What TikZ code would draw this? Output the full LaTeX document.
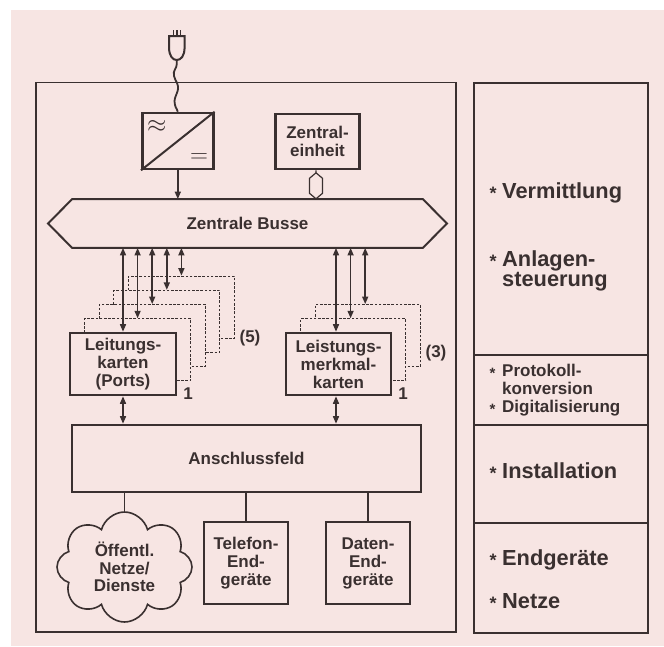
\documentclass[tikz,border=0pt]{standalone}
\usepackage{fontspec}
\setmainfont{Liberation Sans}
\usepackage{tikz}
\usetikzlibrary{arrows.meta,shapes.symbols,positioning}
\usepackage{xcolor}
\definecolor{dfbg}{RGB}{247,229,227}
\definecolor{dfline}{RGB}{58,48,48}
\tikzstyle{card} = [draw=dfline, line width=2.6pt, fill=dfbg, inner sep=0pt, align=center, text=dfline, font=\fontsize{17}{18}\selectfont\bfseries]
\tikzstyle{backcard} = [draw=dfline, line width=1.1pt, dash pattern=on 2.6pt off 1.6pt, fill=dfbg, inner sep=0pt, minimum height=62pt]
\tikzstyle{dbl} = [line width=1.5pt, color=dfline, {Triangle[length=7.5pt,width=6pt]}-{Triangle[length=7.5pt,width=6pt]}]
\tikzstyle{link} = [line width=1.5pt, color=dfline]
\tikzstyle{numtext} = [text=dfline, font=\fontsize{17}{18}\selectfont\bfseries, inner sep=0pt]
\tikzstyle{bigitem} = [anchor=base west, inner sep=0pt, text=dfline, font=\fontsize{21.8}{20}\selectfont\bfseries]
\tikzstyle{smallitem} = [anchor=base west, inner sep=0pt, text=dfline, font=\fontsize{17}{18}\selectfont\bfseries]
\newcommand{\stern}[2]{\makebox[12.5pt][l]{\raisebox{#2}{\fontsize{#1}{#1}\selectfont *}}}

\begin{document}
\begin{tikzpicture}[x=1pt, y=-1pt]
\useasboundingbox (0,0) rectangle (664,646);
% Background
\fill[white] (0,0) rectangle (664,646);
\fill[dfbg] (11,10) rectangle (664,646);

% Frames
\draw[dfline, line width=1.2pt] (36,82.7) rectangle (456,632);
\draw[dfline, line width=2pt] (474,82.7) rectangle (648,633);
\draw[dfline, line width=2pt] (474,355) -- (648,355);
\draw[dfline, line width=2pt] (474,425) -- (648,425);
\draw[dfline, line width=2pt] (474,523) -- (648,523);

% Plug
\foreach \x in {173.4,176.8,180.2}
  \draw[dfline, line width=1.4pt] (\x,30) -- (\x,36);
\draw[dfline, line width=2pt] (169,36) -- (184.6,36) -- (184.6,47) .. controls (184.6,56) and (181,60) .. (176.8,60) .. controls (172.6,60) and (169,56) .. (169,47) -- cycle;
\coordinate (plug) at (176.8,60);

% Power supply and central unit
\node[card, minimum width=71pt, minimum height=56pt] (conv) at (177.8,141) {};
\draw[dfline, line width=2pt] (conv.south west) -- (conv.north east);
\node[text=dfline, font=\fontsize{24}{24}\selectfont, inner sep=0pt] (ac) at (156.7,126) {$\approx$};
\node[text=dfline, font=\fontsize{24}{24}\selectfont, inner sep=0pt] (dc) at (199,158) {$=$};
\node[card, minimum width=83.6pt, minimum height=55pt] (zentral) at (317.5,141.5) {Zentral-\\einheit};

% Bus
\node[numtext, minimum width=398.4pt, minimum height=48.4pt] (bus) at (247.5,223.5) {Zentrale Busse};
\draw[dfline, line width=2pt] (bus.west) -- ([xshift=24pt]bus.north west) -- ([xshift=-24pt]bus.north east) -- (bus.east) -- ([xshift=-24pt]bus.south east) -- ([xshift=24pt]bus.south west) -- cycle;

% Cord and feeds
\draw[link, line width=1.8pt] (plug) -- ++(0,4) .. controls (176.8,69) and (172.6,70) .. (174,76) .. controls (175.4,82) and (179.6,84) .. (177.6,91) .. controls (175.8,97) and (173.4,99) .. (175,105) .. controls (176,109) and (177.8,110) .. (conv.north);
\draw[link, -{Triangle[length=7.5pt,width=6pt]}] (conv.south) -- (conv.south |- bus.north);
\draw[link, line width=1.2pt] ([xshift=-1.5pt]zentral.south) -- ++(0,2.5) -- ++(6.5,5.5) -- ++(0,15) -- ++(-6.5,5.5) -- ++(-6.5,-5.5) -- ++(0,-15) -- ++(6.5,-5.5);
\draw[link, line width=1.2pt] ([xshift=-1.5pt,yshift=-28.5pt]zentral.south) -- ([xshift=-1.5pt]zentral.south |- bus.north);

% Card stacks
\foreach \i in {5,4,3,2}
  \node[backcard, minimum width=106pt] (lk\i) at ({123+14.6*(\i-1)},{364-14.2*(\i-1)}) {};
\node[card, minimum width=106pt, minimum height=62pt] (lk1) at (123,364) {Leitungs-\\karten\\(Ports)};
\foreach \i in {3,2}
  \node[backcard, minimum width=105pt] (lm\i) at ({338.5+14.6*(\i-1)},{364-14.2*(\i-1)}) {};
\node[card, minimum width=105pt, minimum height=62pt] (lm1) at (338.5,364) {Leistungs-\\merkmal-\\karten};

% Bus arrows
\foreach \i in {1,...,5}
  \draw[dbl] (lk\i.north |- bus.south) -- (lk\i.north);
\foreach \i in {1,2,3}
  \draw[dbl] ([xshift=-2.5pt]lm\i.north |- bus.south) -- ([xshift=-2.5pt]lm\i.north);

% Counts
\node[numtext] (n5) at (250,338) {(5)};
\node[numtext] (n3) at (436,353) {(3)};
\node[numtext] (lk1no) at (188,394) {1};
\node[numtext] (lm1no) at (403,394) {1};

% Connection field
\node[card, minimum width=349pt, minimum height=67pt] (af) at (246.5,458.5) {Anschlussfeld};
\draw[dbl] (lk1.south) -- (lk1.south |- af.north);
\draw[dbl] ([xshift=-2.5pt]lm1.south) -- ([xshift=-2.5pt]lm1.south |- af.north);

% Terminals
\node[cloud, cloud puffs=8, aspect=1.05, draw=dfline, line width=1.6pt, fill=dfbg, inner sep=0pt, align=center, text=dfline, font=\fontsize{17}{17.5}\selectfont\bfseries, minimum width=135pt, minimum height=110pt] (netz) at (124.5,567) {Öffentl.\\Netze/\\Dienste};
\node[card, minimum width=84pt, minimum height=82pt] (tel) at (246,563) {Telefon-\\End-\\geräte};
\node[card, minimum width=84pt, minimum height=82pt] (dat) at (368,563) {Daten-\\End-\\geräte};
\draw[link] (netz.north |- af.south) -- (netz.north);
\draw[link] (tel.north |- af.south) -- (tel.north);
\draw[link] (dat.north |- af.south) -- (dat.north);

% Side panel
\node[bigitem] (v1) at (489.5,198) {\stern{18}{-1.7pt}Vermittlung};
\node[bigitem] (v2) at (489.5,266) {\stern{18}{-1.7pt}Anlagen-};
\node[bigitem] (v3) at (502,286.5) {steuerung};
\node[smallitem] (p1) at (489.5,376) {\stern{15}{-2pt}Protokoll-};
\node[smallitem] (p2) at (502,394) {konversion};
\node[smallitem] (p3) at (489.5,412) {\stern{15}{-2pt}Digitalisierung};
\node[bigitem] (i1) at (489.5,478) {\stern{18}{-1.7pt}Installation};
\node[bigitem] (e1) at (489.5,565) {\stern{18}{-1.7pt}Endgeräte};
\node[bigitem] (e2) at (489.5,608) {\stern{18}{-1.7pt}Netze};
\end{tikzpicture}
\end{document}
